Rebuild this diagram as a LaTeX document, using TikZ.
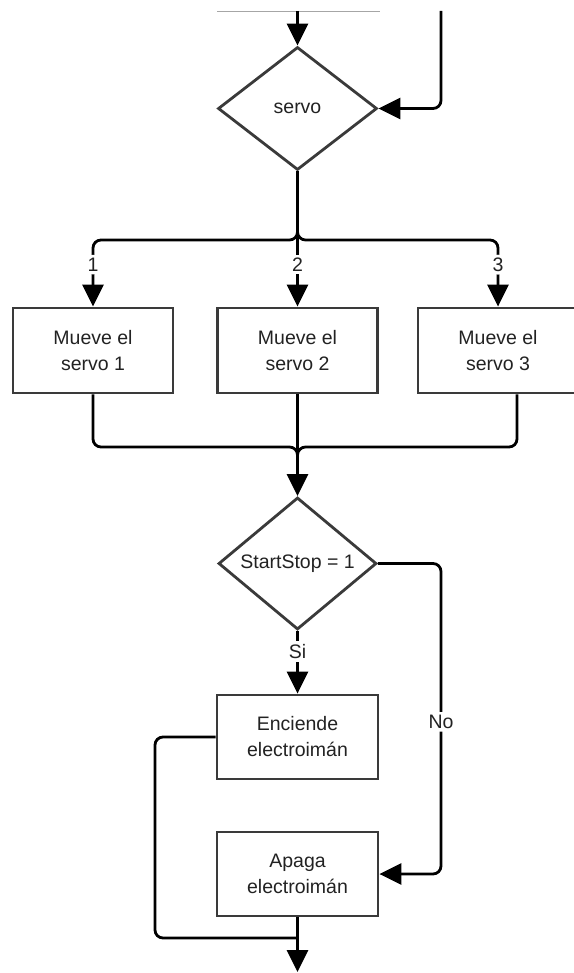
\documentclass[tikz,border=0pt]{standalone}
\usepackage{fontspec}
\setmainfont{Liberation Sans}
\usetikzlibrary{shapes.geometric,arrows.meta}
\definecolor{boxline}{HTML}{3A3A3A}
\definecolor{txt}{HTML}{222222}
\begin{document}
\begin{tikzpicture}[x=1pt,y=-1pt,
  every node/.style={font=\fontsize{19.5}{26}\selectfont, text=txt},
  procbox/.style={draw=boxline, line width=2.8pt, rectangle, minimum width=160pt, minimum height=85pt, align=center, inner sep=0pt},
  decbox/.style={draw=boxline, line width=2.8pt, diamond, minimum width=159pt, minimum height=123pt, inner sep=0pt},
  conn/.style={draw=black, line width=2.8pt},
  arr/.style={conn, -{Triangle[length=22pt,width=21pt]}},
  lab/.style={fill=white, inner sep=3pt}
]
\useasboundingbox (0,0) rectangle (573,973);

% top
\coordinate (tl) at (217,11);
\coordinate (tr) at (380,11);
\draw[gray!70, line width=0.8pt] (tl) -- (tr);
\coordinate (topin) at (297.5,11);
\coordinate (rin) at (441,11);

\node[decbox] (servo) at (297.5,108.5) {servo};
\draw[arr] (topin) -- (servo.north);
\draw[arr, rounded corners=8pt] (rin) |- (servo.east);

% three servo boxes
\node[procbox] (b1) at (93,350.5) {Mueve el\\servo 1};
\node[procbox] (b2) at (297.5,350.5) {Mueve el\\servo 2};
\node[procbox] (b3) at (498,350.5) {Mueve el\\servo 3};

\draw[arr, rounded corners=8pt] (servo.south) |- (93,240) -- node[lab, pos=0.37]{1} (b1.north);
\draw[arr] (servo.south) -- node[lab, pos=0.69]{2} (b2.north);
\draw[arr, rounded corners=8pt] (servo.south) |- (498,240) -- node[lab, pos=0.37]{3} (b3.north);

% StartStop decision
\node[decbox, minimum width=158pt] (ss) at (297.5,563.5) {StartStop = 1};

\draw[conn, rounded corners=8pt] (b1.south) |- (297.5,447) -- (297.5,465);
\draw[conn, rounded corners=8pt] ([xshift=19pt]b3.south) |- (297.5,447) -- (297.5,465);
\draw[arr] (b2.south) -- (ss.north);

% electroiman boxes
\node[procbox, minimum width=161pt, minimum height=84pt] (enc) at (297.5,737) {Enciende\\electroimán};
\node[procbox, minimum width=161pt, minimum height=84pt] (apa) at (297.5,874) {Apaga\\electroimán};

\draw[arr] (ss.south) -- node[lab, pos=0.33]{Si} (enc.north);
\draw[arr, rounded corners=8pt] (ss.east) -- (441,563.5) -- node[lab, pos=0.51]{No} (441,874) -- (apa.east);

\coordinate (out) at (297.5,972);
\draw[conn, rounded corners=8pt] (enc.west) -- (155,737) -- (155,938) -- (297.5,938);
\draw[arr] (apa.south) -- (out);
\end{tikzpicture}
\end{document}
